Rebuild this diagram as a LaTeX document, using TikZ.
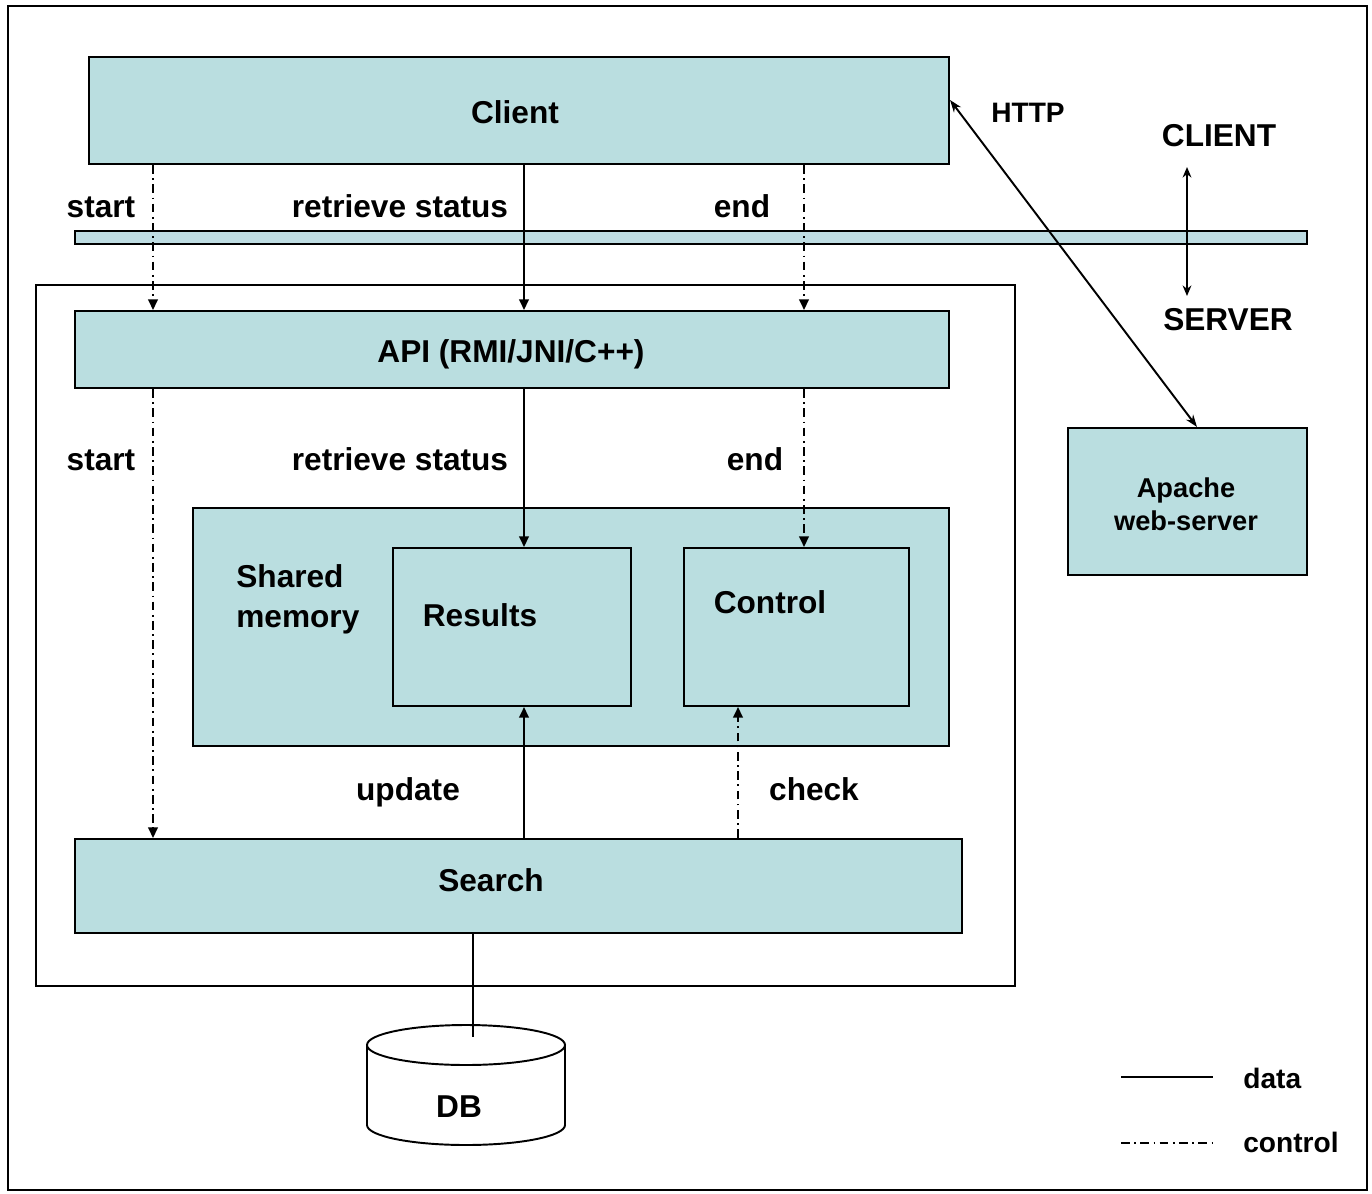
\documentclass[tikz,border=0pt]{standalone}
\usepackage{fontspec}
\setmainfont{Liberation Sans}
\usetikzlibrary{arrows.meta,fit}
\definecolor{boxfill}{RGB}{186,222,224}
\definecolor{barfill}{RGB}{190,220,226}
\tikzset{
  box/.style={draw=black, line width=1.2pt, fill=boxfill, inner sep=0pt},
  frame/.style={draw=black, line width=1.2pt, inner sep=0pt},
  lbl/.style={font=\bfseries\fontsize{18}{22}\selectfont, inner sep=0pt, anchor=base},
  slbl/.style={font=\bfseries\fontsize{16}{20}\selectfont, inner sep=0pt, anchor=base},
  tip/.style={-{Triangle[length=6pt,width=5.5pt]}},
  dataline/.style={line width=1.1pt},
  ctrlline/.style={line width=1.1pt, dash pattern=on 5pt off 2.5pt on 1pt off 2.5pt},
}
\begin{document}
\begin{tikzpicture}[x=0.02cm,y=-0.02cm]
\useasboundingbox (0,0) rectangle (1372,1193);
% outer frame
\node[frame, fit={(8,6)(1367,1190)}] (outer) {};
% server frame
\node[frame, fit={(36,285)(1015,986)}] (server) {};
% boxes
\node[box, fit={(89,57)(949,164)}] (client) {};
\node[lbl] (clientt) at (515,124) {Client};
\node[box, fill=barfill, line width=1pt, fit={(75,231)(1307,244)}] (bar) {};
\node[box, fit={(75,311)(949,388)}] (api) {};
\node[lbl] (apit) at (511,362) {API (RMI/JNI/C++)};
\node[box, fit={(193,508)(949,746)}] (shm) {};
\node[lbl, anchor=base west, align=left] (shmt) at (236,587) {Shared};
\node[lbl, anchor=base west] (shmt2) at (236,627) {memory};
\node[box, fit={(393,548)(631,706)}] (results) {};
\node[lbl] (resultst) at (480,626) {Results};
\node[box, fit={(684,548)(909,706)}] (control) {};
\node[lbl] (controlt) at (770,613) {Control};
\node[box, fit={(75,839)(962,933)}] (search) {};
\node[lbl] (searcht) at (491,891) {Search};
\node[box, fit={(1068,428)(1307,575)}] (apache) {};
\node[slbl, font=\bfseries\fontsize{15.5}{19}\selectfont] (apachet) at (1186,497) {Apache};
\node[slbl, font=\bfseries\fontsize{15.5}{19}\selectfont] (apachet2) at (1186,530) {web-server};
% DB cylinder
\draw[line width=1.1pt, fill=white] (367,1045) -- (367,1125) arc[start angle=180, end angle=0, x radius=99, y radius=20] -- (565,1045);
\draw[line width=1.1pt, fill=white] (466,1045) ellipse [x radius=99, y radius=20];
\node[lbl] (db) at (459,1117) {DB};
\coordinate (dbtop) at (473,1037);
% x positions of connectors
\coordinate (xs) at (153,0);
\coordinate (xr) at (524,0);
\coordinate (xe) at (804,0);
\coordinate (xc) at (738,0);
\coordinate (xd) at (473,0);
% client -> api
\draw[ctrlline, tip] (client.south -| xs) -- (api.north -| xs);
\draw[dataline, tip] (client.south -| xr) -- (api.north -| xr);
\draw[ctrlline, tip] (client.south -| xe) -- (api.north -| xe);
% api -> below
\draw[ctrlline, tip] (api.south -| xs) -- (search.north -| xs);
\draw[dataline, tip] (api.south -| xr) -- (results.north -| xr);
\draw[ctrlline, tip] (api.south -| xe) -- (control.north -| xe);
% search -> shared memory
\draw[dataline, tip] (search.north -| xr) -- (results.south -| xr);
\draw[ctrlline, tip] (search.north -| xc) -- (control.south -| xc);
% search -> DB
\draw[dataline] (search.south -| xd) -- (dbtop);
% labels row 1
\node[lbl] (s1) at (101,217) {start};
\node[lbl] (r1) at (400,217) {retrieve status};
\node[lbl] (e1) at (742,217) {end};
% labels row 2
\node[lbl] (s2) at (101,470) {start};
\node[lbl] (r2) at (400,470) {retrieve status};
\node[lbl] (e2) at (755,470) {end};
% update / check
\node[lbl] (upd) at (408,800) {update};
\node[lbl] (chk) at (814,800) {check};
% HTTP
\draw[line width=1.1pt, {Stealth[length=7pt,width=5pt]}-{Stealth[length=7pt,width=5pt]}] ([yshift=0.21cm]client.east) -- ([xshift=0.19cm]apache.north);
\node[slbl] (http) at (1028,122) {HTTP};
% CLIENT / SERVER
\coordinate (cstop) at (1187,167);
\coordinate (csbot) at (1187,296);
\draw[line width=1pt, {Stealth[length=6pt,width=5pt]}-{Stealth[length=6pt,width=5pt]}] (cstop) -- (csbot);
\node[lbl] (clab) at (1219,146) {CLIENT};
\node[lbl] (slab) at (1228,330) {SERVER};
% legend
\coordinate (ld1) at (1121,1077);
\coordinate (ld2) at (1213,1077);
\coordinate (lc1) at (1121,1143);
\coordinate (lc2) at (1215,1143);
\draw[dataline] (ld1) -- (ld2);
\draw[ctrlline] (lc1) -- (lc2);
\node[slbl, anchor=base west] (ldt) at (1243,1088) {data};
\node[slbl, anchor=base west] (lct) at (1243,1152) {control};
\end{tikzpicture}
\end{document}
